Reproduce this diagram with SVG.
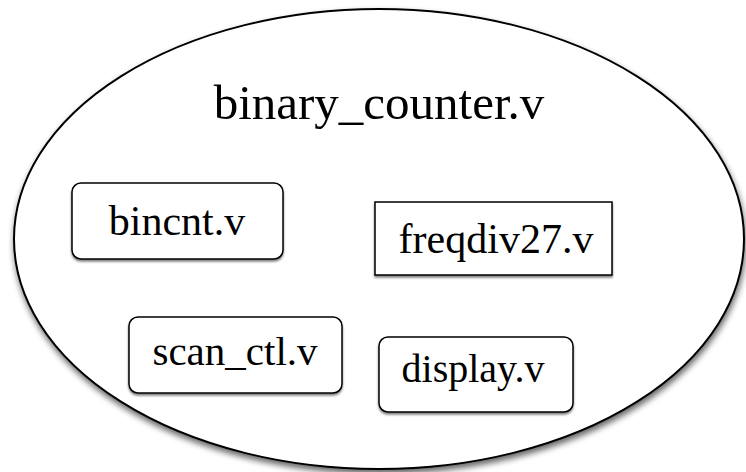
<svg xmlns="http://www.w3.org/2000/svg" width="746" height="472" viewBox="0 0 746 472">
<defs>
<filter id="sh" x="-10%" y="-10%" width="120%" height="125%">
<feGaussianBlur in="SourceAlpha" stdDeviation="3"/>
<feOffset dx="1" dy="4" result="b"/>
<feComponentTransfer><feFuncA type="linear" slope="0.6"/></feComponentTransfer>
<feMerge><feMergeNode/><feMergeNode in="SourceGraphic"/></feMerge>
</filter>
<filter id="shs" x="-10%" y="-10%" width="120%" height="130%">
<feGaussianBlur in="SourceAlpha" stdDeviation="1"/>
<feOffset dx="0" dy="2"/>
<feComponentTransfer><feFuncA type="linear" slope="0.5"/></feComponentTransfer>
<feMerge><feMergeNode/><feMergeNode in="SourceGraphic"/></feMerge>
</filter>
</defs>
<style>
.t{font-family:"Liberation Serif","Times New Roman",serif;fill:#000;text-anchor:middle}
.box{fill:#fff;stroke:#000;stroke-width:1.5}
</style>
<rect width="746" height="472" fill="#fff"/>
<g id="binary_counter">
<ellipse cx="379" cy="239" rx="365" ry="230" fill="#fff" stroke="#000" stroke-width="2" filter="url(#sh)"/>
<text class="t" x="379" y="119" font-size="49">binary_counter.v</text>
</g>
<g id="bincnt">
<rect class="box" x="72" y="183" width="211" height="76" rx="9" filter="url(#shs)"/>
<text class="t" x="177" y="235" font-size="42">bincnt.v</text>
</g>
<g id="freqdiv27">
<rect class="box" x="375" y="202" width="237" height="73" filter="url(#shs)"/>
<text class="t" x="496" y="253" font-size="42">freqdiv27.v</text>
</g>
<g id="scan_ctl">
<rect class="box" x="129" y="317" width="213" height="76" rx="9" filter="url(#shs)"/>
<text class="t" x="235" y="365" font-size="41">scan_ctl.v</text>
</g>
<g id="display">
<rect class="box" x="379" y="337" width="194" height="75" rx="9" filter="url(#shs)"/>
<text class="t" x="473" y="382" font-size="40">display.v</text>
</g>
<g id="connectors"/>
</svg>
